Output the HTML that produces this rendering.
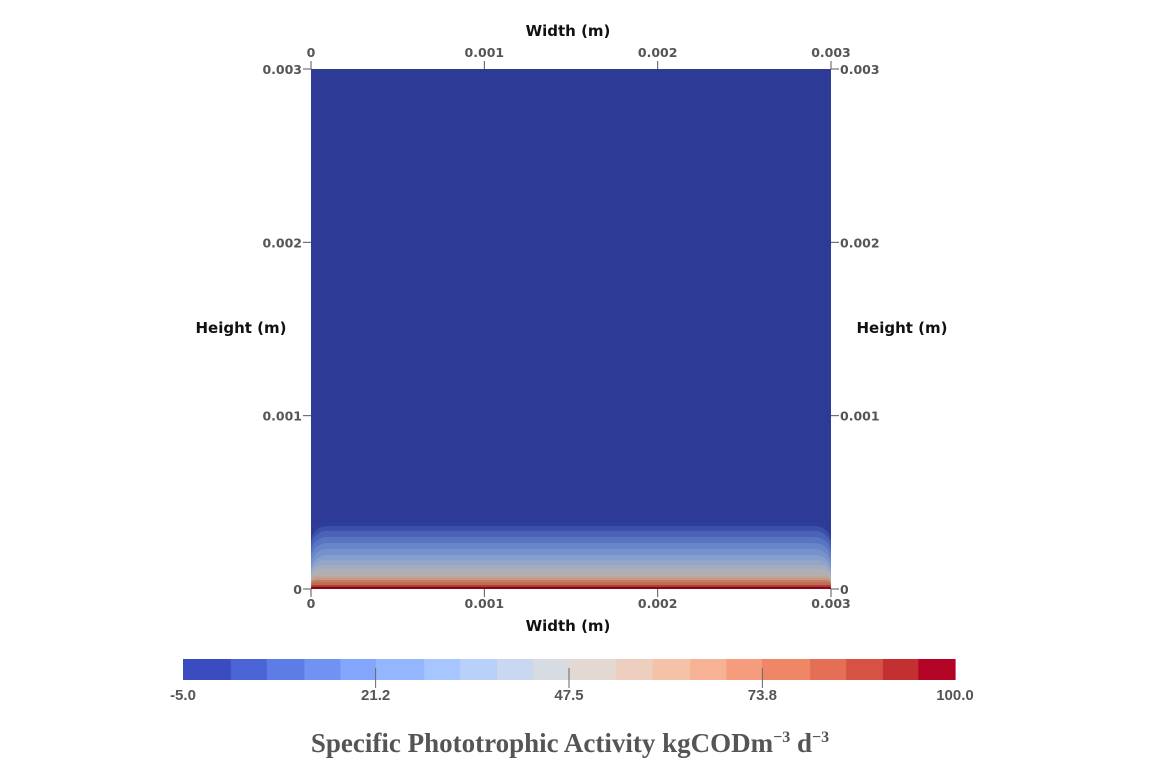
<!DOCTYPE html>
<html><head><meta charset="utf-8"><style>
html,body{margin:0;padding:0;background:#fff;width:1155px;height:761px;overflow:hidden}
svg{display:block}
.tk{font-family:"DejaVu Sans","Liberation Sans",sans-serif;font-size:12.5px;fill:#555;font-weight:bold}
.at{font-family:"DejaVu Sans","Liberation Sans",sans-serif;font-size:15px;fill:#111;font-weight:bold}
.cb{font-family:"Liberation Sans",sans-serif;font-size:15px;fill:#555;font-weight:bold}
</style></head><body>
<svg id="chart" width="1155" height="761">
<g id="field"></g>
<g id="axes"></g>
<g id="cbar"></g>
<text x="570" y="752" text-anchor="middle" style="font-family:'Liberation Serif',serif;font-weight:bold;font-size:27px;fill:#555">Specific Phototrophic Activity kgCODm<tspan dy="-10" font-size="16">−3</tspan><tspan dy="10"> d</tspan><tspan dy="-10" font-size="16">−3</tspan></text>
</svg>
<script>
// colormap levels
const cbLevels=[-5,1.5,6.4,11.5,16.4,21.25,27.8,32.7,37.7,42.6,47.4,53.9,58.9,64,68.9,73.75,80.3,85.2,90.2,95,100];
const cbColors=['#3b4cc0','#4b64d5','#5d7ce6','#6f92f3','#82a6fb','#94b6ff','#a7c5fe','#b9d0f9','#c9d7f0','#d7dce3','#e4d9d2','#eecebe','#f4c2a7','#f7b194','#f59c7d','#ef8767','#e46e56','#d65244','#c43032','#b40426'];
const cbTicks=[-5.0,21.2,47.5,73.8,100.0];
// activity profile: depth from bottom (m) vs value
const profDepth=[0.000387,0.000363,0.000335,0.0003,0.000265,0.000231,0.000196,0.000167,0.000138,0.000115,0.000092,0.000075,0.000063,0.000052,0.00004,0.000023,0.000012];
const profValue=[0,5,9,14,19,24,30,35,40,45,50,56,62,70,78,88,97];
const xTicks=[0,0.001,0.002,0.003];
const yTicks=[0,0.001,0.002,0.003];
const NS='http://www.w3.org/2000/svg';
const X0=311,X1=831,Y0=589,Y1=69,DOM=0.003;
const sx=v=>X0+(X1-X0)*v/DOM, sy=v=>Y0-(Y0-Y1)*v/DOM;
const cbx0=183,cbx1=955;
const cbs=v=>cbx0+(cbx1-cbx0)*(v+5)/105;
function el(t,a,p){const e=document.createElementNS(NS,t);for(const k in a)e.setAttribute(k,a[k]);p.appendChild(e);return e;}
function colorFor(v){let i=0;while(i<cbColors.length-1&&v>=cbLevels[i+1])i++;return cbColors[i];}
function shade(hex,f){const n=parseInt(hex.slice(1),16);const r=Math.round(((n>>16)&255)*f),g=Math.round(((n>>8)&255)*f),b=Math.round((n&255)*f);return `rgb(${r},${g},${b})`;}
const field=document.getElementById('field');
const bg=el('rect',{x:X0,y:Y1,width:X1-X0,height:Y0-Y1,fill:shade(cbColors[0],0.78)},field);


profDepth.forEach((d,i)=>{
  const top=sy(d),h=Y0-top;
  const rr=Math.min(h*0.45,16);
  const r=el('rect',{x:X0,y:top,width:X1-X0,height:h+20,rx:rr,ry:rr,fill:shade(colorFor(profValue[i]),0.8)},field);
  
  
});
el('rect',{x:X0-2,y:Y0,width:X1-X0+4,height:22,fill:'#fff'},field);
const ax=document.getElementById('axes');
function txt(x,y,s,cls,anchor){const t=el('text',{x:x,y:y,class:cls,'text-anchor':anchor||'middle'},ax);t.textContent=s;return t;}
const lc='#555';
xTicks.forEach(v=>{
  const x=sx(v);
  el('line',{x1:x,x2:x,y1:Y1,y2:Y1-8,stroke:lc},ax);
  el('line',{x1:x,x2:x,y1:Y0,y2:Y0+8,stroke:lc},ax);
  const a=txt(x,57,String(v),'tk');
  const b=txt(x,608,String(v),'tk');
});
yTicks.forEach(v=>{
  const y=sy(v);
  el('line',{x1:X0-8,x2:X0,y1:y,y2:y,stroke:lc},ax);
  el('line',{x1:X1,x2:X1+8,y1:y,y2:y,stroke:lc},ax);
  const a=txt(X0-9,y+5,String(v),'tk','end');
  const b=txt(X1+9,y+5,String(v),'tk','start');
});
let t;
t=txt(568,36,'Width (m)','at');
t=txt(568,631,'Width (m)','at');
t=txt(241,333,'Height (m)','at');
t=txt(902,333,'Height (m)','at');
const cb=document.getElementById('cbar');
cbColors.forEach((c,i)=>{
  const x=cbs(cbLevels[i]),w=cbs(cbLevels[i+1])-x;
  const r=el('rect',{x:x,y:659,width:w+0.6,height:21,fill:c},cb);
  
  
});
cbTicks.forEach((v,i)=>{
  const x=cbs(v);
  if(i>0&&i<cbTicks.length-1)el('line',{x1:x,x2:x,y1:668,y2:688,stroke:'#666'},cb);
  const s=el('text',{x:x,y:700,class:'cb','text-anchor':'middle'},cb);
  s.textContent=v.toFixed(1);
  
  
});
</script>
</body></html>
